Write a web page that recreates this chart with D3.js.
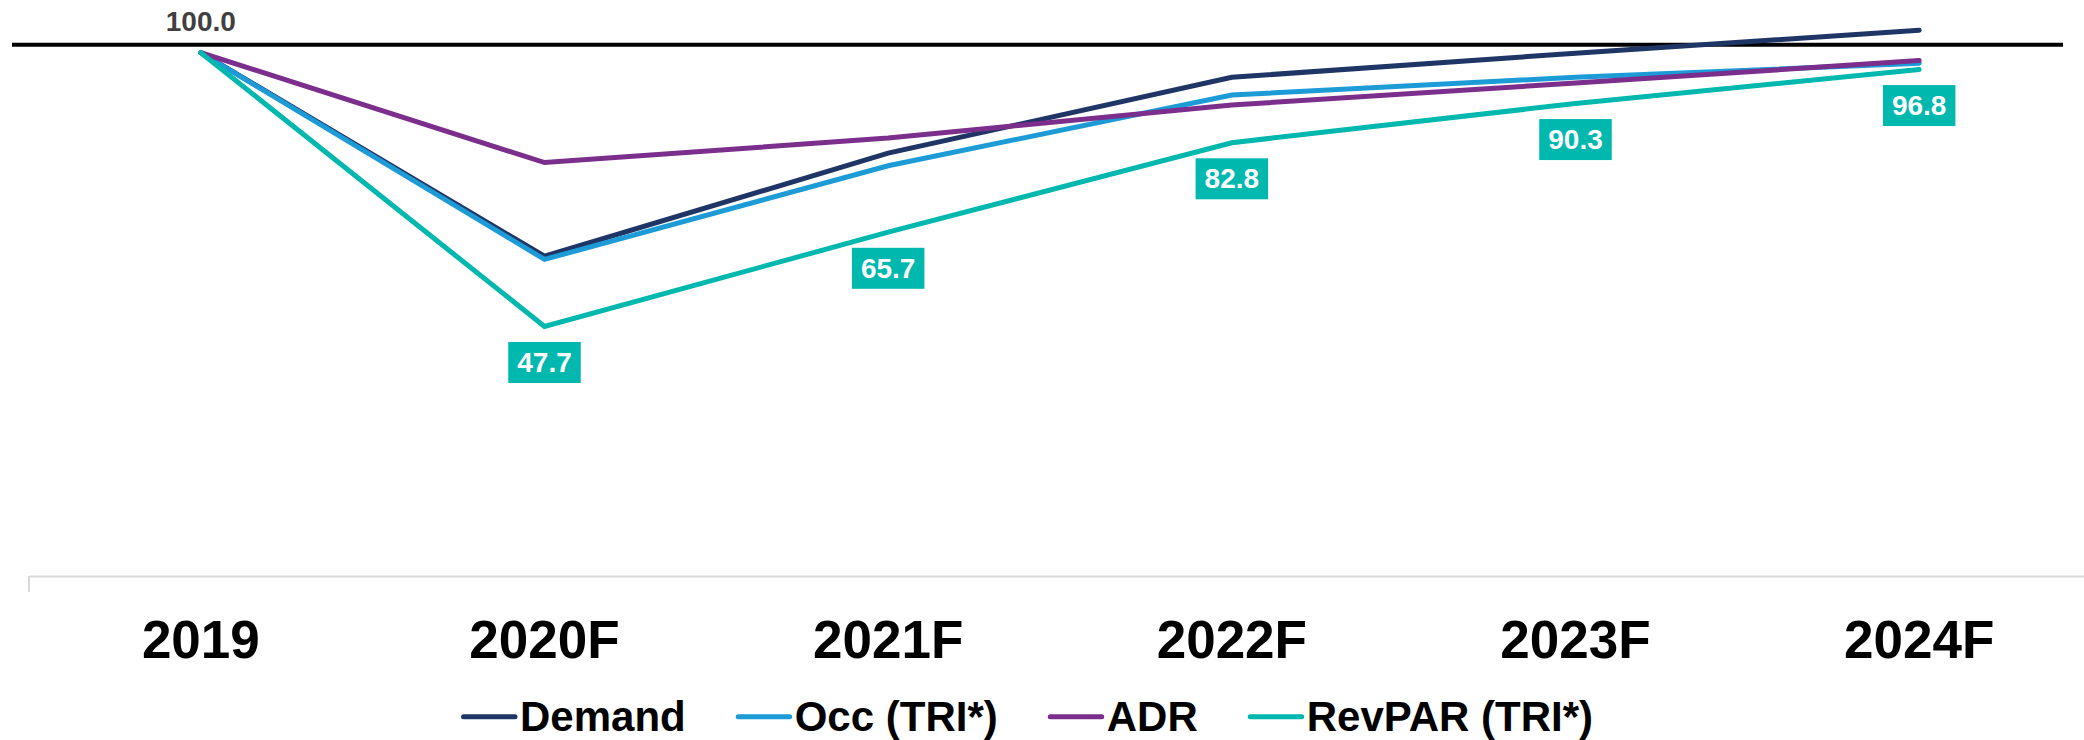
<!DOCTYPE html>
<html>
<head>
<meta charset="utf-8">
<script src="https://cdn.jsdelivr.net/npm/d3@7"></script>
<style>
  html, body { margin: 0; padding: 0; background: #ffffff; }
  svg { display: block; }
  text { font-family: "Liberation Sans", Arial, sans-serif; font-weight: bold; }
</style>
</head>
<body>
<svg id="chart" width="2084" height="740"></svg>
<script>
// ---- data ----
const categories = ["2019", "2020F", "2021F", "2022F", "2023F", "2024F"];
const demand = [100, 61.1, 80.8, 95.3, 99.9, 104.3];
const occ    = [100, 60.5, 78.4, 91.9, 95.3, 98.0];
const adr    = [100, 79.0, 83.7, 90.0, 94.2, 98.5];
const revpar = [100, 47.7, 65.7, 82.8, 90.3, 96.8];
const seriesNames = ["Demand", "Occ (TRI*)", "ADR", "RevPAR (TRI*)"];
const seriesColors = ["#1f3566", "#1c9bd7", "#7b2e8b", "#00b8ae"];
const referenceValue = [101.5];
const yDomain = [0, 100];

const series = [demand, occ, adr, revpar];

const svg = d3.select("#chart");

const x = d3.scaleBand().domain(categories).range([29, 2091]).padding(0);
const y = d3.scaleLinear().domain(yDomain).range([576, 52.7]);
const cx = c => x(c) + x.bandwidth() / 2;

// bottom category axis
const axis = d3.axisBottom(x).tickSize(0).tickPadding(0);
const gAxis = svg.append("g").attr("transform", `translate(0,${y(0)})`).call(axis);
gAxis.select(".domain").attr("stroke", "#d9d9d9").attr("stroke-width", 2);
gAxis.selectAll(".tick text")
  .attr("y", 82).attr("dy", 0)
  .attr("font-size", 53).attr("fill", "#000")
  .attr("font-family", "'Liberation Sans', Arial, sans-serif").attr("font-weight", "bold");
gAxis.append("line")
  .attr("x1", x.range()[0]).attr("x2", x.range()[0])
  .attr("y1", 0).attr("y2", 16)
  .attr("stroke", "#d9d9d9").attr("stroke-width", 2);

// reference black line
svg.selectAll(".ref").data(referenceValue).enter().append("line")
  .attr("class", "ref")
  .attr("x1", 12).attr("x2", 2063)
  .attr("y1", d => y(d)).attr("y2", d => y(d))
  .attr("stroke", "#000").attr("stroke-width", 4);

// lines
const line = d3.line().x((d, i) => cx(categories[i])).y(d => y(d));
series.forEach((s, k) => {
  svg.append("path")
    .datum(s)
    .attr("d", line)
    .attr("fill", "none")
    .attr("stroke", seriesColors[k])
    .attr("stroke-width", 5)
    .attr("stroke-linejoin", "miter")
    .attr("stroke-linecap", "round");
});

// data labels for RevPAR
revpar.forEach((v, i) => {
  const px = cx(categories[i]);
  const py = y(v);
  const txt = v.toFixed(1);
  if (i === 0) {
    svg.append("text")
      .attr("x", px).attr("y", 30.7)
      .attr("text-anchor", "middle")
      .attr("font-size", 28).attr("fill", "#404040")
      .text(txt);
  } else {
    const g = svg.append("g");
    const t = g.append("text")
      .attr("x", px).attr("y", py + 15.6 + 20.5)
      .attr("text-anchor", "middle")
      .attr("dominant-baseline", "central")
      .attr("font-size", 28).attr("fill", "#ffffff")
      .text(txt);
    const w = t.node().getComputedTextLength() + 18;
    g.insert("rect", "text")
      .attr("x", px - w / 2).attr("y", py + 15.6)
      .attr("width", w).attr("height", 41)
      .attr("fill", "#00b8ae");
  }
});

// legend
const legend = svg.append("g");
let lx = 461;
const ly = 716.7;
seriesNames.forEach((name, k) => {
  legend.append("line")
    .attr("x1", lx + 2.5).attr("x2", lx + 54)
    .attr("y1", ly).attr("y2", ly)
    .attr("stroke", seriesColors[k]).attr("stroke-width", 5)
    .attr("stroke-linecap", "round");
  const t = legend.append("text")
    .attr("x", lx + 59).attr("y", 731)
    .attr("font-size", 42).attr("fill", "#000")
    .text(name);
  lx = lx + 59 + t.node().getComputedTextLength() + 50;
});
</script>
</body>
</html>
